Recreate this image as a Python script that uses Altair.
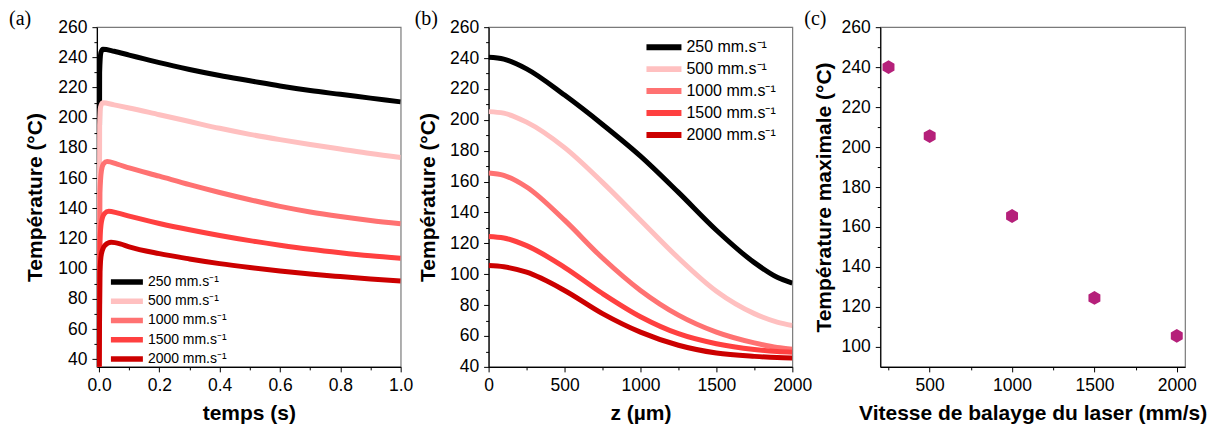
import altair as alt
import pandas as pd

# ---------------- data ----------------
speeds = ["250 mm.s⁻¹", "500 mm.s⁻¹", "1000 mm.s⁻¹", "1500 mm.s⁻¹", "2000 mm.s⁻¹"]
colors = ["#000000", "#FFC0C0", "#FF7272", "#FF4040", "#CC0000"]

# panel (a): temperature vs time
a_t_250 = [0.0, 0.002, 0.006, 0.013, 0.05, 0.1, 0.15, 0.2, 0.3, 0.4, 0.5, 0.6, 0.7, 0.8, 0.9, 1.0]
a_T_250 = [25, 230, 243, 245.3, 244, 241.5, 239, 236.5, 232, 228, 224.5, 221, 218, 215.5, 213, 210.5]
a_t_500 = [0.0, 0.002, 0.005, 0.012, 0.05, 0.1, 0.2, 0.3, 0.4, 0.5, 0.6, 0.7, 0.8, 0.9, 1.0]
a_T_500 = [25, 195, 207, 210, 208.5, 206.5, 202, 197.5, 193, 189, 185.5, 182.3, 179.3, 176.3, 173.7]
a_t_1000 = [0.0, 0.003, 0.008, 0.015, 0.027, 0.06, 0.1, 0.2, 0.3, 0.4, 0.5, 0.6, 0.7, 0.8, 0.9, 1.0]
a_T_1000 = [25, 150, 165, 169.5, 171, 169.3, 166.8, 161.3, 155.7, 150.5, 145.7, 141.3, 137.6, 134.6, 132, 129.8]
a_t_1500 = [0.0, 0.003, 0.008, 0.018, 0.032, 0.06, 0.1, 0.2, 0.3, 0.4, 0.5, 0.6, 0.7, 0.8, 0.9, 1.0]
a_T_1500 = [25, 118, 131, 136.5, 138, 137, 134.8, 130, 125.8, 122, 118.6, 115.6, 112.9, 110.6, 108.6, 107]
a_t_2000 = [0.0, 0.003, 0.008, 0.02, 0.04, 0.07, 0.1, 0.2, 0.3, 0.4, 0.5, 0.6, 0.7, 0.8, 0.9, 1.0]
a_T_2000 = [25, 98, 110, 115.5, 117.5, 116.5, 114.5, 110, 106.5, 103.4, 100.8, 98.5, 96.5, 94.8, 93.2, 91.8]

# panel (b): temperature vs depth z
b_z = [0, 100, 250, 500, 750, 1000, 1250, 1500, 1750, 1900, 2000]
b_T_250 = [240.5, 239.3, 233, 216, 197, 176.5, 153, 128.5, 107.5, 98, 94.2]
b_T_500 = [205.3, 204.3, 198.5, 182, 159.5, 135, 110.5, 89, 74.5, 69, 66.8]
b_T_1000 = [165.5, 164, 156.5, 135, 110.5, 89.5, 73.5, 62.5, 55.5, 52.5, 51.5]
b_T_1500 = [124.5, 123.5, 118.5, 104.5, 87.5, 72.5, 61.5, 55, 51.3, 50, 49.5]
b_T_2000 = [105.6, 104.8, 101.3, 89.5, 74.5, 62.5, 54, 49, 46.8, 46, 45.8]

# panel (c): maximum temperature vs scan speed
c_speed = [250, 500, 1000, 1500, 2000]
c_Tmax = [240, 205.5, 165.5, 124.5, 105.5]

# ---------------- tables ----------------
a_series = [(a_t_250, a_T_250), (a_t_500, a_T_500), (a_t_1000, a_T_1000),
            (a_t_1500, a_T_1500), (a_t_2000, a_T_2000)]
rows = []
for i, (ts, Ts) in enumerate(a_series):
    for k, (t, T) in enumerate(zip(ts, Ts)):
        rows.append({"t": t, "T": T, "v": speeds[i], "o": i, "k": k})
df_a = pd.DataFrame(rows)

b_series = [b_T_250, b_T_500, b_T_1000, b_T_1500, b_T_2000]
rows = []
for i, Ts in enumerate(b_series):
    for k, (z, T) in enumerate(zip(b_z, Ts)):
        rows.append({"z": z, "T": T, "v": speeds[i], "o": i, "k": k})
df_b = pd.DataFrame(rows)

df_c = pd.DataFrame({"speed": c_speed, "Tmax": c_Tmax})

FONT = "Liberation Sans"
LBL = 17.5
TTL = 21


def tick_size(test):
    return {"condition": {"test": test, "value": 3}, "value": 5}


def panel_title(txt, dx):
    return alt.TitleParams(txt, anchor="start", orient="top", frame="group", dx=dx,
                           font="Liberation Serif", fontSize=20, fontWeight="normal",
                           color="black", offset=-11)


# ---------- panel (a) ----------
y_vals_a = list(range(40, 261, 10))
x_vals_a = [0.0, 0.1, 0.2, 0.3, 0.4, 0.5, 0.6, 0.7, 0.8, 0.9, 1.0]
color_a = alt.Color("v:N", scale=alt.Scale(domain=speeds, range=colors),
                    legend=alt.Legend(title=None, orient="none", legendX=11, legendY=248,
                                      symbolType="stroke", symbolSize=1024, symbolStrokeWidth=5.5,
                                      labelFont=FONT, labelFontSize=14, labelColor="black",
                                      clipHeight=14, rowPadding=5.25, labelOffset=2, padding=0))
chart_a = alt.Chart(df_a).mark_line(strokeWidth=5, clip=True, interpolate="monotone").encode(
    x=alt.X("t:Q", scale=alt.Scale(domain=[-0.007, 1.0], nice=False, zero=False),
            axis=alt.Axis(title="temps (s)", values=x_vals_a, format=".1f",
                          labelExpr="round(datum.value*10) % 2 == 0 ? datum.label : ''",
                          tickSize=tick_size("round(datum.value*10) % 2 != 0"), titlePadding=8)),
    y=alt.Y("T:Q", scale=alt.Scale(domain=[35, 260], nice=False, zero=False),
            axis=alt.Axis(title="Température (°C)", values=y_vals_a,
                          labelExpr="datum.value % 20 == 0 ? datum.label : ''",
                          tickSize=tick_size("datum.value % 20 != 0"), titlePadding=12)),
    color=color_a,
    order="k:Q",
    detail="o:N",
).properties(width=304, height=340, title=panel_title("(a)", -88))

# ---------- panel (b) ----------
y_vals_b = list(range(40, 261, 10))
x_vals_b = list(range(0, 2001, 250))
color_b = alt.Color("v:N", scale=alt.Scale(domain=speeds, range=colors),
                    legend=alt.Legend(title=None, orient="none", legendX=155, legendY=12,
                                      symbolType="stroke", symbolSize=1225, symbolStrokeWidth=6,
                                      labelFont=FONT, labelFontSize=16, labelColor="black",
                                      clipHeight=16, rowPadding=6, labelOffset=2, padding=0))
chart_b = alt.Chart(df_b).mark_line(strokeWidth=5, clip=True, interpolate="monotone").encode(
    x=alt.X("z:Q", scale=alt.Scale(domain=[0, 2000], nice=False, zero=False),
            axis=alt.Axis(title="z (µm)", values=x_vals_b, format="d",
                          labelExpr="datum.value % 500 == 0 ? datum.label : ''",
                          tickSize=tick_size("datum.value % 500 != 0"), titlePadding=8)),
    y=alt.Y("T:Q", scale=alt.Scale(domain=[40, 260], nice=False, zero=False),
            axis=alt.Axis(title="Température (°C)", values=y_vals_b,
                          labelExpr="datum.value % 20 == 0 ? datum.label : ''",
                          tickSize=tick_size("datum.value % 20 != 0"), titlePadding=11)),
    color=color_b,
    order="k:Q",
    detail="o:N",
).properties(width=304, height=340, title=panel_title("(b)", -74))

# ---------- panel (c) ----------
hexagon = "M0,-1L0.866,-0.5L0.866,0.5L0,1L-0.866,0.5L-0.866,-0.5Z"
y_vals_c = list(range(100, 261, 10))
x_vals_c = list(range(250, 2001, 250))
chart_c = alt.Chart(df_c).mark_point(shape=hexagon, filled=True, size=190, color="#B5207A",
                                     opacity=1).encode(
    x=alt.X("speed:Q", scale=alt.Scale(domain=[200, 2050], nice=False, zero=False),
            axis=alt.Axis(title="Vitesse de balayge du laser (mm/s)", values=x_vals_c, format="d",
                          labelExpr="datum.value % 500 == 0 ? datum.label : ''",
                          tickSize=tick_size("datum.value % 500 != 0"), titlePadding=8)),
    y=alt.Y("Tmax:Q", scale=alt.Scale(domain=[90, 260], nice=False, zero=False),
            axis=alt.Axis(title="Température maximale (°C)", values=y_vals_c,
                          labelExpr="datum.value % 20 == 0 ? datum.label : ''",
                          tickSize=tick_size("datum.value % 20 != 0"), titlePadding=7)),
).properties(width=305, height=340, title=panel_title("(c)", -76))

chart = alt.hconcat(chart_a, chart_b, chart_c, spacing=88, bounds="flush").resolve_scale(
    color="independent"
).properties(padding=0, background="white").configure_view(
    stroke="#7a7a7a", strokeWidth=1.2
).configure_axis(
    labelFont=FONT, labelFontSize=LBL, labelColor="black", labelPadding=5,
    labelFlush=False, labelOverlap=False,
    titleFont=FONT, titleFontSize=TTL, titleFontWeight="bold", titleColor="black",
    domainColor="black", domainWidth=1.2, tickColor="black", tickWidth=1, grid=False,
)

chart.save("out.html", embed_options={"renderer": "svg", "actions": False})
